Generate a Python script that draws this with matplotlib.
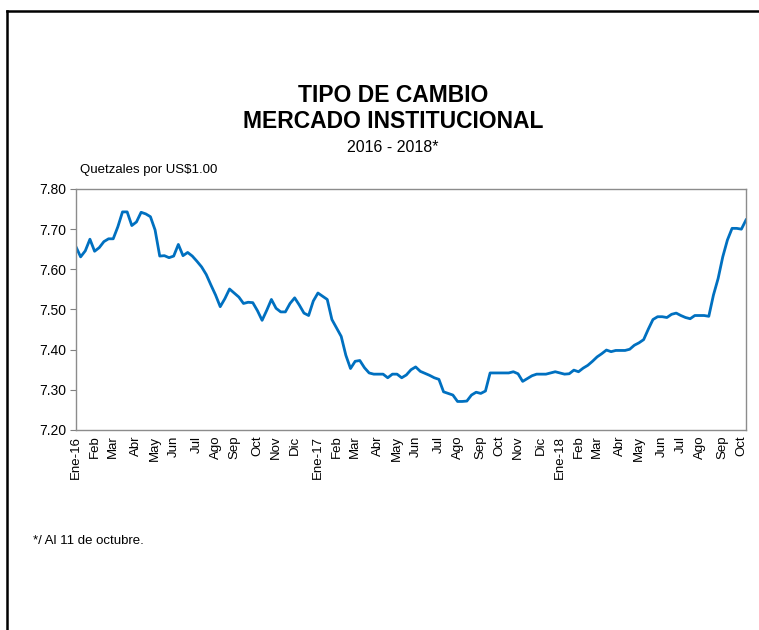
import numpy as np
import pandas as pd
import matplotlib
matplotlib.use("Agg")
import matplotlib.pyplot as plt
from matplotlib.lines import Line2D

plt.rcParams['font.family'] = ['Liberation Sans', 'DejaVu Sans']

# weekly observations, Jan 2016 - 11 Oct 2018
weeks = pd.date_range('2016-01-07', periods=145, freq='7D')
tipo_cambio = [
    7.656, 7.631, 7.646, 7.675, 7.645, 7.654, 7.669, 7.676, 7.676, 7.706,
    7.743, 7.743, 7.709, 7.718, 7.742, 7.738, 7.731, 7.698, 7.633, 7.634,
    7.629, 7.633, 7.662, 7.634, 7.642, 7.633, 7.620, 7.606, 7.587, 7.561,
    7.536, 7.507, 7.527, 7.551, 7.541, 7.531, 7.515, 7.518, 7.517, 7.497,
    7.473, 7.498, 7.525, 7.503, 7.494, 7.494, 7.515, 7.529, 7.511, 7.491,
    7.485, 7.521, 7.541, 7.533, 7.525, 7.475, 7.454, 7.433, 7.386, 7.353,
    7.371, 7.373, 7.355, 7.342, 7.339, 7.339, 7.339, 7.330, 7.339, 7.339,
    7.330, 7.337, 7.350, 7.357, 7.346, 7.341, 7.336, 7.330, 7.326, 7.295,
    7.291, 7.287, 7.271, 7.271, 7.272, 7.287, 7.294, 7.291, 7.297, 7.342,
    7.342, 7.342, 7.342, 7.342, 7.345, 7.340, 7.321, 7.328, 7.335, 7.339,
    7.339, 7.339, 7.342, 7.345, 7.342, 7.339, 7.340, 7.349, 7.345, 7.354,
    7.361, 7.371, 7.382, 7.390, 7.399, 7.395, 7.398, 7.398, 7.398, 7.401,
    7.411, 7.417, 7.425, 7.451, 7.475, 7.482, 7.482, 7.480, 7.488, 7.491,
    7.485, 7.480, 7.477, 7.485, 7.485, 7.485, 7.483, 7.536, 7.577, 7.631,
    7.673, 7.702, 7.702, 7.700, 7.723,
]
mes_abrev = ['Ene', 'Feb', 'Mar', 'Abr', 'May', 'Jun',
             'Jul', 'Ago', 'Sep', 'Oct', 'Nov', 'Dic']
y_ticks = [7.20, 7.30, 7.40, 7.50, 7.60, 7.70, 7.80]

# label the first week of every month
tick_pos = []
tick_lab = []
prev = None
for i, d in enumerate(weeks):
    key = (d.year, d.month)
    if key != prev:
        tick_pos.append(i)
        if d.month == 1:
            tick_lab.append(f'Ene-{d.year % 100:02d}')
        else:
            tick_lab.append(mes_abrev[d.month - 1])
        prev = key

fig = plt.figure(figsize=(7.59, 6.30), dpi=100)
ax = fig.add_axes([0.1001, 0.3175, 0.8828, 0.3825])

x = np.arange(len(tipo_cambio))
ax.plot(x, tipo_cambio, color='#0070C0', lw=2.0, solid_joinstyle='round')

ax.set_xlim(0, len(tipo_cambio) - 1)
ax.set_ylim(7.20, 7.80)
ax.set_yticks(y_ticks)
ax.set_yticklabels([f'{v:.2f}' for v in y_ticks], fontsize=10)
ax.set_xticks(tick_pos)
ax.set_xticklabels(tick_lab, rotation=90, fontsize=9.5)
ax.tick_params(axis='x', length=0, pad=4)
ax.tick_params(axis='y', length=4, color='#808080', direction='out', pad=3)
for s in ax.spines.values():
    s.set_color('#8c8c8c')
    s.set_linewidth(1.0)

# titles
fig.text(0.518, 1 - 95 / 630, 'TIPO DE CAMBIO', ha='center', va='center',
         fontsize=16.5, fontweight='bold')
fig.text(0.518, 1 - 121 / 630, 'MERCADO INSTITUCIONAL', ha='center', va='center',
         fontsize=16.5, fontweight='bold')
fig.text(0.518, 1 - 147 / 630, '2016 - 2018*', ha='center', va='center',
         fontsize=11.5)
fig.text(80 / 759, 1 - 170 / 630, 'Quetzales por US$1.00', ha='left', va='center',
         fontsize=9.5)
fig.text(33 / 759, 1 - 541 / 630, '*/ Al 11 de octubre.', ha='left', va='center',
         fontsize=9.5)

# outer frame (top and left)
fig.add_artist(Line2D([7 / 759, 7 / 759], [0, 1 - 11 / 630], color='black', lw=1.8))
fig.add_artist(Line2D([7 / 759, 1], [1 - 11 / 630, 1 - 11 / 630], color='black', lw=1.8))

fig.savefig('out.png', dpi=100)
